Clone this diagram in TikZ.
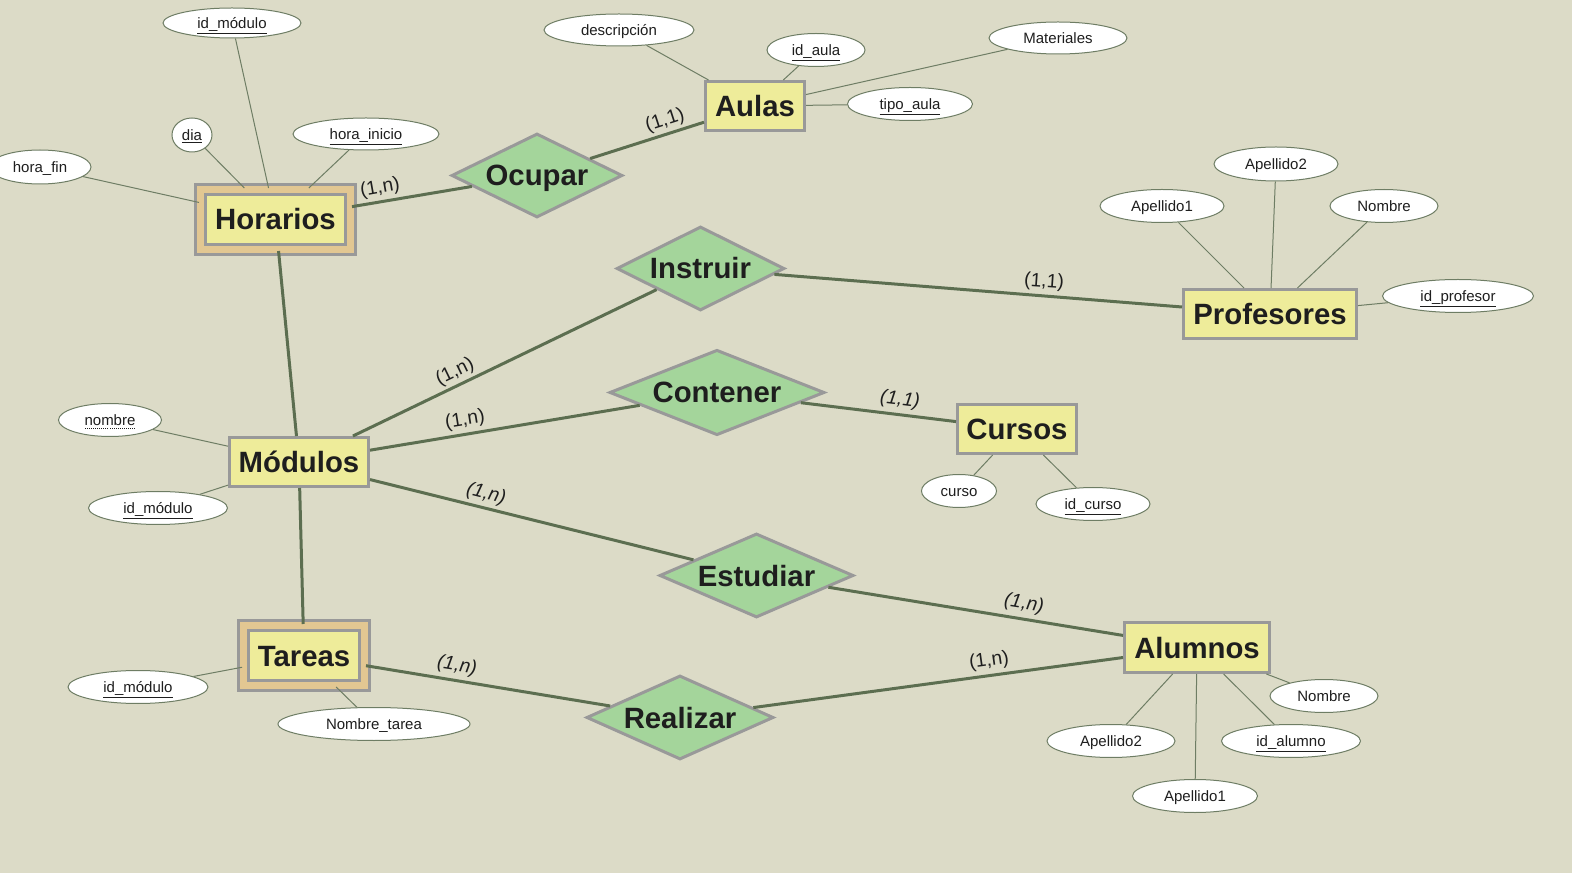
\documentclass[tikz,border=0pt]{standalone}
\usepackage{fontspec}
\setmainfont{Liberation Sans}
\usetikzlibrary{shapes.geometric}

\definecolor{fondo}{RGB}{220,219,199}
\definecolor{amarillo}{RGB}{238,236,154}
\definecolor{ocre}{RGB}{226,199,146}
\definecolor{verde}{RGB}{164,213,155}
\definecolor{bordegris}{RGB}{153,153,153}
\definecolor{lineaverde}{RGB}{92,110,80}
\definecolor{lineaattr}{RGB}{110,125,100}
\definecolor{texto}{RGB}{30,30,30}

% subrayado para claves y subrayado punteado
\newcommand{\clave}[1]{\underline{#1}}
\newcommand{\punteado}[1]{\setbox0\hbox{#1}\rlap{\copy0}\raisebox{-2.6pt}{\hbox to \wd0{\xleaders\hbox to 1.5pt{\hss\rule{0.75pt}{0.75pt}\hss}\hfill}}}

\tikzset{
  entidad/.style={draw=bordegris, fill=amarillo, line width=2.25pt, inner sep=0pt,
    text height=15.75pt, text depth=0pt,
    font=\fontsize{22}{26}\selectfont\bfseries, text=texto},
  debil/.style={entidad, double=ocre, double distance=5.25pt},
  relacion/.style={diamond, aspect=2, draw=bordegris, fill=verde, line width=2.25pt, inner sep=0pt,
    text height=15.75pt, text depth=0pt,
    font=\fontsize{22}{26}\selectfont\bfseries, text=texto},
  atributo/.style={ellipse, draw=lineaattr, fill=white, line width=0.75pt, inner sep=0pt,
    text height=8pt, text depth=0pt,
    minimum height=24.75pt, font=\fontsize{11.25}{13}\selectfont, text=texto},
  enlace/.style={draw=lineaverde, line width=2.25pt},
  rama/.style={draw=lineaattr, line width=0.75pt},
  card/.style={font=\fontsize{14.5}{17}\selectfont, text=texto, inner sep=0pt},
  cardit/.style={card, font=\fontsize{14.5}{17}\selectfont\itshape},
}

\begin{document}
\begin{tikzpicture}[x=0.75pt,y=0.75pt,yscale=-1,xscale=1]
    %fondo del diagrama, 1572 x 873
    \fill[fondo] (0,0) rectangle (1572,873);
    \useasboundingbox (0,0) rectangle (1572,873);

    % Entidades
    \node[debil, minimum width=112.5pt, minimum height=45pt] (hor) at (275.5,219.5) {Horarios};
    \node[entidad, minimum width=74.25pt, minimum height=36.75pt] (aul) at (755,106) {Aulas};
    \node[entidad, minimum width=129.75pt, minimum height=36.75pt] (prof) at (1270,314) {Profesores};
    \node[entidad, minimum width=104.25pt, minimum height=36.75pt] (mod) at (299,462) {Módulos};
    \node[entidad, minimum width=89.25pt, minimum height=36.75pt] (cur) at (1017,429) {Cursos};
    \node[debil, minimum width=90.75pt, minimum height=45pt] (tar) at (304,655.5) {Tareas};
    \node[entidad, minimum width=108.75pt, minimum height=37.5pt] (alu) at (1197,647.5) {Alumnos};

    % Relaciones
    \node[relacion, minimum width=128.25pt, minimum height=63pt] (ocu) at (537,175.5) {Ocupar};
    \node[relacion, minimum width=126pt, minimum height=63pt] (ins) at (700.5,268.5) {Instruir};
    \node[relacion, minimum width=161.25pt, minimum height=63pt] (con) at (717,392.5) {Contener};
    \node[relacion, minimum width=145.5pt, minimum height=63pt] (est) at (756.5,575.5) {Estudiar};
    \node[relacion, minimum width=140.25pt, minimum height=63pt] (rea) at (680,717.5) {Realizar};

    % Atributos de Horarios
    \node[atributo, minimum width=103.5pt, minimum height=22.5pt] (hmod) at (232,23) {\clave{id\_módulo}};
    \node[atributo, minimum width=30pt, minimum height=25.5pt] (hdia) at (192,135) {\clave{dia}};
    \node[atributo, minimum width=109.5pt, minimum height=24pt] (hini) at (366,134) {\clave{hora\_inicio}};
    \node[atributo, minimum width=76.5pt, minimum height=25.5pt] (hfin) at (40,167) {hora\_fin};
    % Atributos de Aulas
    \node[atributo, minimum width=112.5pt, minimum height=24pt] (adesc) at (619,30) {descripción};
    \node[atributo, minimum width=73.5pt] (aid) at (816,50) {\clave{id\_aula}};
    \node[atributo, minimum width=103.5pt, minimum height=24pt] (amat) at (1058,38) {Materiales};
    \node[atributo, minimum width=93.75pt] (atipo) at (910,104) {\clave{tipo\_aula}};
    % Atributos de Profesores
    \node[atributo, minimum width=93pt, minimum height=25.5pt] (pap2) at (1276,164) {Apellido2};
    \node[atributo, minimum width=93pt] (pap1) at (1162,206) {Apellido1};
    \node[atributo, minimum width=81pt] (pnom) at (1384,206) {Nombre};
    \node[atributo, minimum width=113.25pt] (pid) at (1458,296) {\clave{id\_profesor}};
    % Atributos de Modulos
    \node[atributo, minimum width=77.25pt] (mnom) at (110,420) {\punteado{nombre}};
    \node[atributo, minimum width=104.25pt] (mid) at (158,508) {\clave{id\_módulo}};
    % Atributos de Cursos
    \node[atributo, minimum width=56.25pt] (ccur) at (959,491) {curso};
    \node[atributo, minimum width=85.5pt] (cid) at (1093,504) {\clave{id\_curso}};
    % Atributos de Tareas
    \node[atributo, minimum width=105pt] (tid) at (138,687) {\clave{id\_módulo}};
    \node[atributo, minimum width=144pt] (tnom) at (374,724) {Nombre\_tarea};
    % Atributos de Alumnos
    \node[atributo, minimum width=81pt] (anom) at (1324,696) {Nombre};
    \node[atributo, minimum width=96pt] (aap2) at (1111,741) {Apellido2};
    \node[atributo, minimum width=104.25pt] (aidal) at (1291,741) {\clave{id\_alumno}};
    \node[atributo, minimum width=93.75pt] (aap1) at (1195,796) {Apellido1};

    % Lineas de atributos
    \draw[rama] (hmod) -- (hor) (hdia) -- (hor) (hini) -- (hor) (hfin) -- (hor);
    \draw[rama] (adesc) -- (aul) (aid) -- (aul) (amat) -- (aul) (atipo) -- (aul);
    \draw[rama] (pap2) -- (prof) (pap1) -- (prof) (pnom) -- (prof) (pid) -- (prof);
    \draw[rama] (mnom) -- (mod) (mid) -- (mod);
    \draw[rama] (ccur) -- (cur) (cid) -- (cur);
    \draw[rama] (tid) -- (tar) (tnom) -- (tar);
    \draw[rama] (anom) -- (alu) (aap2) -- (alu) (aidal) -- (alu) (aap1) -- (alu);

    % Lineas de relaciones
    \draw[enlace] (hor) -- (ocu);
    \draw[enlace] (ocu) -- (aul);
    \draw[enlace] (hor) -- (mod);
    \draw[enlace] (mod) -- (ins);
    \draw[enlace] (ins) -- (prof);
    \draw[enlace] (mod) -- (con);
    \draw[enlace] (con) -- (cur);
    \draw[enlace] (mod) -- (est);
    \draw[enlace] (est) -- (alu);
    \draw[enlace] (mod) -- (tar);
    \draw[enlace] (tar) -- (rea);
    \draw[enlace] (rea) -- (alu);

    % Cardinalidades
    \node[card, rotate=10] (k1) at (380,188) {(1,n)};
    \node[card, rotate=18] (k2) at (665,121) {(1,1)};
    \node[card, rotate=-4] (k3) at (1044,282) {(1,1)};
    \node[card, rotate=26] (k4) at (455,372) {(1,n)};
    \node[card, rotate=9] (k5) at (465,420) {(1,n)};
    \node[cardit, rotate=-7] (k6) at (900,400) {(1,1)};
    \node[cardit, rotate=-14] (k7) at (486,494) {(1,n)};
    \node[cardit, rotate=-9] (k8) at (1024,604) {(1,n)};
    \node[cardit, rotate=-9] (k9) at (457,666) {(1,n)};
    \node[card, rotate=8] (k10) at (989,661) {(1,n)};

\end{tikzpicture}
\end{document}
